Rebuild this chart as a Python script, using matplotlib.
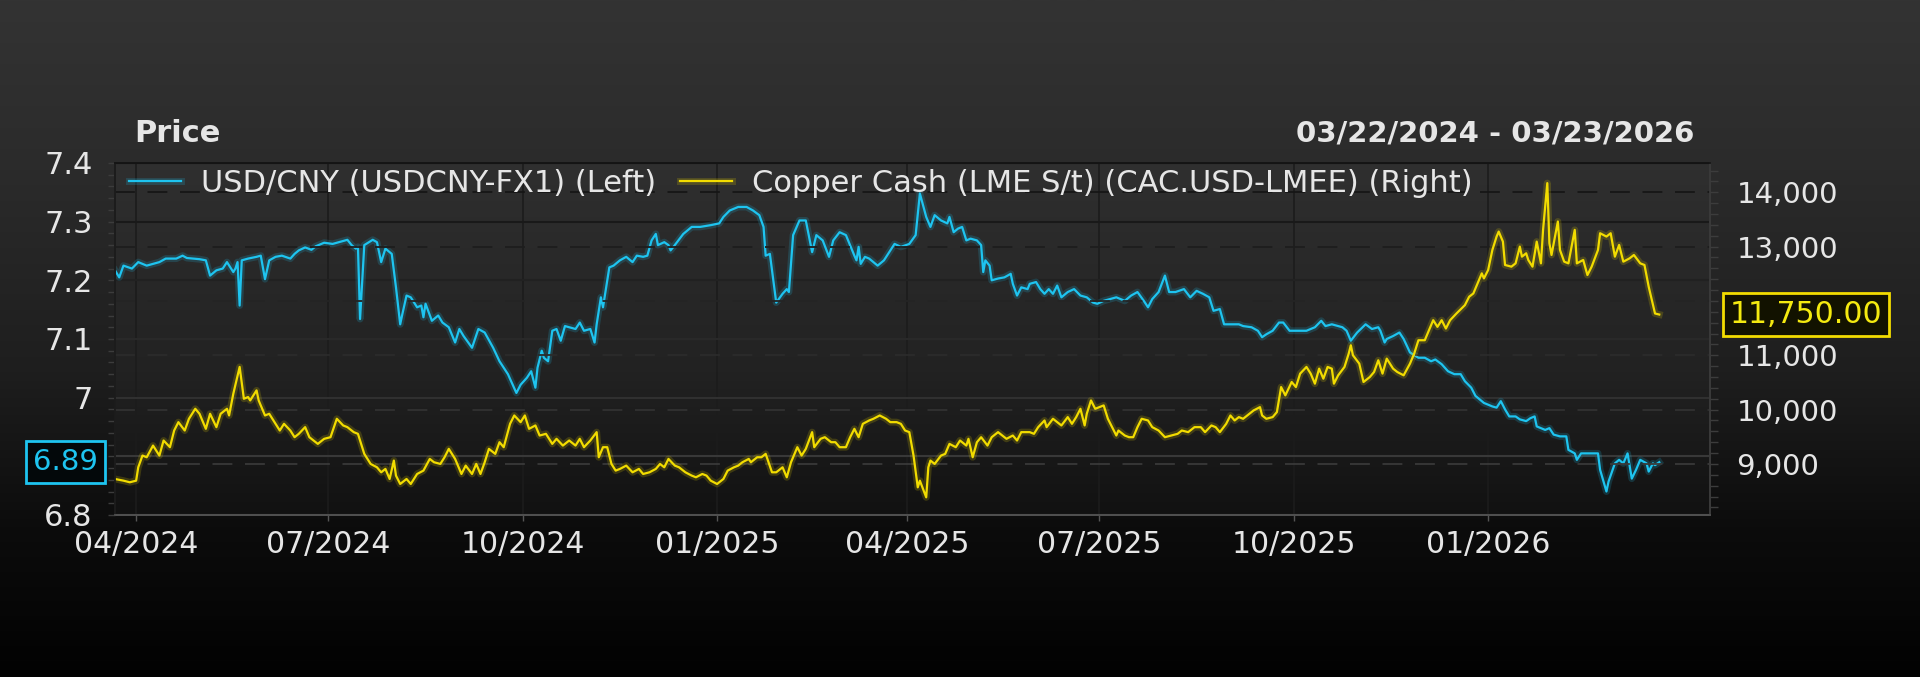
import numpy as np
import pandas as pd
import matplotlib
matplotlib.use('Agg')
import matplotlib.pyplot as plt
import matplotlib.dates as mdates
import matplotlib.ticker as mticker
import matplotlib.patheffects as pe
from matplotlib.colors import LinearSegmentedColormap
from matplotlib.transforms import blended_transform_factory

start = pd.Timestamp('2024-03-22')
end = pd.Timestamp('2026-03-23')

# USD/CNY (days after 03/22/2024)
cny_day = [0, 2, 4, 8, 11, 15, 21, 24, 29, 32,
           34, 40, 43, 45, 48, 51, 53, 56, 57, 58,
           59, 60, 63, 67, 69, 71, 73, 76, 79, 83,
           85, 87, 90, 93, 95, 99, 103, 106, 110, 112,
           114, 115, 116, 118, 122, 124, 126, 128, 131, 133,
           135, 136, 138, 140, 143, 145, 146, 147, 150, 153,
           155, 158, 161, 163, 165, 169, 172, 175, 179, 182,
           186, 190, 192, 195, 197, 199, 200, 202, 203, 205,
           207, 209, 211, 213, 215, 218, 220, 222, 225, 227,
           228, 230, 231, 234, 236, 239, 242, 245, 247, 250,
           252, 254, 256, 257, 260, 262, 263, 265, 269, 273,
           277, 282, 286, 288, 291, 295, 299, 302, 305, 307,
           308, 310, 313, 316, 318, 319, 321, 324, 327, 330,
           332, 335, 338, 340, 343, 346, 350, 351, 352, 353,
           355, 357, 361, 364, 367, 369, 372, 376, 379, 381,
           384, 386, 388, 391, 394, 395, 397, 399, 401, 403,
           405, 408, 410, 411, 412, 414, 415, 418, 421, 424,
           425, 427, 429, 432, 433, 436, 438, 440, 442, 444,
           446, 448, 451, 454, 457, 460, 463, 465, 468, 471,
           474, 478, 481, 484, 487, 489, 491, 494, 497, 499,
           502, 506, 509, 512, 515, 518, 520, 523, 525, 528,
           532, 534, 538, 541, 543, 545, 548, 551, 553, 556,
           560, 564, 568, 571, 573, 576, 579, 581, 583, 585,
           588, 592, 595, 598, 599, 601, 602, 605, 608, 610,
           613, 617, 620, 623, 625, 628, 631, 634, 637, 639,
           642, 644, 648, 652, 654, 656, 658, 660, 663, 665,
           668, 670, 672, 673, 677, 679, 681, 684, 687, 688,
           691, 692, 694, 697, 702, 703, 706, 707, 710, 712,
           714, 716, 718, 720, 722, 725, 726, 728, 729, 731]
cny_value = [7.217, 7.205, 7.225, 7.220, 7.231, 7.225, 7.231, 7.237, 7.237, 7.242,
             7.238, 7.236, 7.234, 7.208, 7.217, 7.220, 7.231, 7.214, 7.220, 7.231,
             7.157, 7.234, 7.237, 7.240, 7.242, 7.202, 7.234, 7.240, 7.242, 7.237,
             7.245, 7.251, 7.256, 7.252, 7.258, 7.264, 7.262, 7.265, 7.269, 7.260,
             7.254, 7.257, 7.134, 7.260, 7.269, 7.265, 7.231, 7.254, 7.245, 7.188,
             7.125, 7.142, 7.174, 7.171, 7.154, 7.157, 7.137, 7.160, 7.131, 7.140,
             7.128, 7.120, 7.094, 7.117, 7.105, 7.085, 7.117, 7.111, 7.085, 7.062,
             7.040, 7.008, 7.022, 7.034, 7.045, 7.017, 7.051, 7.080, 7.068, 7.062,
             7.114, 7.117, 7.097, 7.122, 7.120, 7.117, 7.128, 7.114, 7.117, 7.094,
             7.125, 7.171, 7.154, 7.222, 7.225, 7.234, 7.240, 7.231, 7.242, 7.240,
             7.242, 7.268, 7.279, 7.260, 7.265, 7.260, 7.251, 7.260, 7.279, 7.291,
             7.291, 7.294, 7.297, 7.308, 7.319, 7.325, 7.325, 7.319, 7.311, 7.291,
             7.242, 7.245, 7.162, 7.177, 7.185, 7.180, 7.277, 7.302, 7.302, 7.248,
             7.277, 7.268, 7.240, 7.268, 7.282, 7.277, 7.242, 7.234, 7.257, 7.228,
             7.240, 7.237, 7.225, 7.234, 7.251, 7.262, 7.257, 7.262, 7.277, 7.348,
             7.308, 7.291, 7.311, 7.302, 7.297, 7.308, 7.282, 7.288, 7.291, 7.268,
             7.271, 7.268, 7.260, 7.214, 7.234, 7.225, 7.200, 7.203, 7.205, 7.211,
             7.194, 7.174, 7.188, 7.185, 7.194, 7.197, 7.185, 7.177, 7.185, 7.177,
             7.191, 7.171, 7.180, 7.185, 7.174, 7.171, 7.162, 7.160, 7.165, 7.168,
             7.171, 7.165, 7.174, 7.180, 7.165, 7.154, 7.168, 7.180, 7.208, 7.180,
             7.180, 7.185, 7.171, 7.182, 7.177, 7.171, 7.148, 7.151, 7.125, 7.125,
             7.125, 7.122, 7.120, 7.114, 7.103, 7.108, 7.114, 7.128, 7.128, 7.114,
             7.114, 7.114, 7.120, 7.131, 7.122, 7.125, 7.122, 7.120, 7.114, 7.097,
             7.111, 7.125, 7.117, 7.120, 7.114, 7.094, 7.100, 7.105, 7.111, 7.100,
             7.077, 7.068, 7.068, 7.062, 7.065, 7.057, 7.045, 7.040, 7.040, 7.028,
             7.017, 7.003, 6.991, 6.985, 6.983, 6.994, 6.980, 6.968, 6.968, 6.963,
             6.960, 6.965, 6.968, 6.951, 6.945, 6.948, 6.937, 6.934, 6.934, 6.911,
             6.905, 6.894, 6.905, 6.905, 6.905, 6.877, 6.840, 6.857, 6.888, 6.894,
             6.888, 6.905, 6.862, 6.877, 6.894, 6.888, 6.874, 6.888, 6.885, 6.890]

# LME copper cash, USD/t (days after 03/22/2024)
cu_day = [0, 4, 7, 10, 11, 13, 15, 18, 21, 23,
          26, 28, 30, 33, 35, 38, 40, 43, 45, 48,
          50, 53, 54, 56, 59, 61, 63, 64, 67, 68,
          71, 73, 75, 78, 80, 83, 85, 87, 90, 92,
          96, 99, 102, 105, 108, 110, 113, 115, 118, 121,
          124, 126, 128, 130, 132, 133, 135, 138, 140, 143,
          146, 149, 151, 154, 156, 158, 161, 164, 166, 169,
          171, 173, 175, 177, 180, 182, 184, 187, 189, 192,
          194, 196, 199, 201, 204, 207, 209, 212, 215, 218,
          220, 222, 225, 228, 229, 231, 233, 235, 237, 239,
          242, 245, 248, 250, 253, 256, 258, 260, 262, 265,
          267, 270, 273, 275, 278, 280, 282, 285, 288, 290,
          293, 295, 297, 300, 301, 304, 306, 308, 311, 313,
          316, 318, 320, 323, 325, 327, 330, 331, 334, 336,
          339, 341, 343, 346, 348, 350, 352, 354, 357, 359,
          362, 365, 367, 370, 372, 374, 376, 378, 380, 381,
          384, 385, 386, 388, 391, 393, 395, 398, 400, 403,
          404, 406, 408, 410, 413, 415, 418, 420, 422, 425,
          427, 429, 433, 435, 437, 440, 441, 444, 446, 448,
          451, 453, 455, 457, 459, 460, 462, 464, 466, 468,
          470, 472, 474, 475, 478, 480, 482, 484, 486, 489,
          491, 494, 497, 500, 503, 505, 508, 511, 514, 516,
          519, 521, 523, 526, 528, 530, 532, 534, 537, 539,
          542, 543, 545, 548, 550, 552, 554, 557, 559, 561,
          564, 566, 568, 570, 572, 574, 576, 577, 579, 582,
          584, 585, 586, 589, 591, 594, 596, 598, 600, 602,
          605, 607, 610, 613, 615, 617, 620, 622, 624, 626,
          628, 630, 632, 635, 639, 641, 643, 645, 647, 648,
          650, 652, 654, 655, 657, 658, 661, 663, 665, 666,
          668, 669, 671, 673, 675, 676, 678, 679, 680, 683,
          684, 686, 688, 691, 692, 695, 697, 699, 702, 703,
          706, 708, 710, 712, 714, 717, 719, 722, 724, 726,
          729, 731]
cu_value = [8723, 8692, 8662, 8692, 8938, 9154, 9123, 9338, 9154, 9431,
            9308, 9615, 9769, 9615, 9831, 10015, 9923, 9646, 9923, 9677,
            9923, 10015, 9892, 10292, 10785, 10200, 10231, 10169, 10354, 10169,
            9892, 9923, 9800, 9615, 9738, 9615, 9492, 9554, 9677, 9492,
            9369, 9462, 9492, 9831, 9708, 9677, 9585, 9554, 9185, 9000,
            8938, 8846, 8908, 8723, 9062, 8785, 8631, 8723, 8631, 8815,
            8877, 9092, 9031, 9000, 9123, 9277, 9092, 8815, 8969, 8815,
            9000, 8815, 9031, 9277, 9185, 9400, 9308, 9738, 9892, 9769,
            9892, 9646, 9708, 9523, 9554, 9369, 9462, 9338, 9431, 9338,
            9462, 9308, 9431, 9585, 9123, 9308, 9308, 9000, 8877, 8908,
            8969, 8846, 8908, 8815, 8846, 8908, 9000, 8938, 9092, 8969,
            8938, 8846, 8785, 8754, 8815, 8785, 8692, 8631, 8723, 8877,
            8938, 8969, 9031, 9092, 9031, 9123, 9123, 9185, 8846, 8846,
            8938, 8754, 9031, 9308, 9154, 9277, 9585, 9308, 9462, 9492,
            9400, 9400, 9308, 9308, 9492, 9646, 9492, 9738, 9800, 9831,
            9892, 9831, 9769, 9769, 9738, 9615, 9585, 9154, 8569, 8692,
            8385, 8938, 9062, 9000, 9154, 9185, 9369, 9308, 9431, 9338,
            9462, 9123, 9400, 9492, 9338, 9492, 9585, 9523, 9462, 9523,
            9431, 9585, 9585, 9554, 9677, 9800, 9677, 9831, 9769, 9708,
            9862, 9738, 9862, 10015, 9708, 9923, 10169, 10015, 10046, 10077,
            9831, 9677, 9523, 9615, 9523, 9492, 9492, 9677, 9831, 9800,
            9677, 9615, 9492, 9523, 9554, 9615, 9585, 9677, 9677, 9585,
            9708, 9677, 9585, 9738, 9892, 9800, 9862, 9831, 9923, 9985,
            10046, 9892, 9831, 9862, 9954, 10415, 10262, 10508, 10415, 10662,
            10785, 10662, 10477, 10754, 10569, 10785, 10754, 10477, 10631, 10785,
            11031, 11185, 11000, 10846, 10508, 10600, 10692, 10908, 10662, 10938,
            10754, 10692, 10631, 10846, 11031, 11277, 11277, 11462, 11646, 11523,
            11646, 11492, 11646, 11769, 11923, 12077, 12138, 12323, 12508, 12415,
            12569, 12938, 13185, 13277, 13092, 12662, 12631, 12692, 13000, 12815,
            12877, 12754, 12631, 13092, 12692, 13308, 14169, 13062, 12846, 13462,
            12938, 12723, 12692, 13308, 12692, 12754, 12477, 12631, 12938, 13246,
            13185, 13246, 12815, 13031, 12723, 12785, 12846, 12692, 12662, 12262,
            11769, 11750]

cny_label = 'USD/CNY (USDCNY-FX1) (Left)'
cu_label = 'Copper Cash (LME S/t) (CAC.USD-LMEE) (Right)'

cny_color = '#1ec4f0'
cu_color = '#f2dc00'
text_color = '#e6e6e6'

cny_dates = start + pd.to_timedelta(cny_day, unit='D')
cu_dates = start + pd.to_timedelta(cu_day, unit='D')
cny_last = cny_value[-1]
cu_last = cu_value[-1]

fig = plt.figure(figsize=(19.2, 6.77), dpi=100)

# dark grey to black backdrop
bg = fig.add_axes([0, 0, 1, 1], zorder=-10)
bg_cmap = LinearSegmentedColormap.from_list(
    'bg', [(0, '#333333'), (0.25, '#2b2b2b'), (0.55, '#1e1e1e'),
           (0.78, '#0c0c0c'), (1, '#020202')])
bg.imshow(np.linspace(0, 1, 256).reshape(-1, 1), cmap=bg_cmap,
          aspect='auto', extent=[0, 1, 0, 1])
bg.axis('off')

ax = fig.add_axes([0.0599, 0.2393, 0.8307, 0.52])
ax.set_facecolor((1, 1, 1, 0.02))
ax2 = ax.twinx()


def glow(c):
    return [pe.Stroke(linewidth=5, foreground=c, alpha=0.18), pe.Normal()]


ax.plot(cny_dates, cny_value, color=cny_color, lw=1.6,
        label=cny_label, path_effects=glow(cny_color))
ax2.plot(cu_dates, cu_value, color=cu_color, lw=1.6,
         label=cu_label, path_effects=glow(cu_color))

ax.set_xlim(start, start + pd.Timedelta(days=755))
ax.set_ylim(6.8, 7.4)
ax2.set_ylim(8060, 14540)

# quarter ticks only inside the data range
ax.set_xticks(pd.date_range(start, end, freq='QS'))
ax.xaxis.set_major_formatter(mdates.DateFormatter('%m/%Y'))
ax.yaxis.set_major_locator(mticker.MultipleLocator(0.1))
ax.yaxis.set_minor_locator(mticker.MultipleLocator(0.02))
ax2.yaxis.set_major_locator(mticker.MultipleLocator(1000))
ax2.yaxis.set_minor_locator(mticker.MultipleLocator(200))


# the last-value tags sit on top of the nearest tick label
def left_fmt(v, p):
    return '' if abs(v - cny_last) < 0.03 else f'{v:g}'


def right_fmt(v, p):
    return '' if abs(v - cu_last) < 300 else f'{v:,.0f}'


ax.yaxis.set_major_formatter(mticker.FuncFormatter(left_fmt))
ax2.yaxis.set_major_formatter(mticker.FuncFormatter(right_fmt))

ax.grid(axis='x', color='#1c1c1c', lw=1.2)
ax.grid(axis='y', color='#1a1a1a', lw=1.5)
ax2.grid(axis='y', color='#1a1a1a', lw=1.3, linestyle=(0, (11, 7)))

ax.tick_params(axis='y', which='both', direction='out', length=5, width=1,
               color='#3c3c3c', labelsize=22, labelcolor=text_color, pad=11)
ax.tick_params(axis='x', direction='out', length=4, width=1, color='#555555',
               labelsize=21.5, labelcolor=text_color, pad=7)
ax2.tick_params(axis='y', which='both', direction='out', length=6, width=1,
                color='#3c3c3c', labelsize=21, labelcolor=text_color, pad=13)

for a in (ax, ax2):
    a.spines['top'].set_color('#151515')
    a.spines['left'].set_color('#1c1c1c')
    a.spines['bottom'].set_color('#505050')
    a.spines['right'].set_color('#3a3a3a')
    for s in a.spines.values():
        s.set_linewidth(1.3)

# grid lines look dark on the grey top and lighter on the black bottom
fig.canvas.draw()
for a in (ax, ax2):
    lo, hi = a.get_ylim()
    for tick in a.yaxis.get_major_ticks():
        f = (tick.get_loc() - lo) / (hi - lo)
        g = 0.25 - 0.18 * min(max(f, 0), 1)
        tick.gridline.set_color((g, g, g))

leg = ax2.legend(ax.get_lines() + ax2.get_lines(), [cny_label, cu_label],
                 loc='center left', bbox_to_anchor=(0.0088, 0.943), ncol=2,
                 frameon=False, fontsize=22, handlelength=1.7,
                 handletextpad=0.65, columnspacing=0.8,
                 borderaxespad=0, borderpad=0)
for t in leg.get_texts():
    t.set_color(text_color)

# last value tags
left_tr = blended_transform_factory(ax.transAxes, ax.transData)
ax.text(-0.0313, cny_last, f'{cny_last:.2f}', transform=left_tr,
        ha='center', va='center', fontsize=21, color=cny_color, clip_on=False,
        zorder=10, bbox=dict(boxstyle='square,pad=0.24', fc='#03080a',
                             ec=cny_color, lw=2))
right_tr = blended_transform_factory(ax2.transAxes, ax2.transData)
ax2.text(1.0602, cu_last, f'{cu_last:,.2f}', transform=right_tr,
         ha='center', va='center', fontsize=21.5, color='#f4ea10',
         clip_on=False, zorder=10,
         bbox=dict(boxstyle='square,pad=0.22', fc='#121200', ec=cu_color, lw=2))

fig.text(134 / 1920, 1 - 133 / 677, 'Price', fontsize=22, fontweight='bold',
         color=text_color, ha='left', va='center')
fig.text(1694 / 1920, 1 - 133 / 677, f'{start:%m/%d/%Y} - {end:%m/%d/%Y}',
         fontsize=21, fontweight='bold', color=text_color, ha='right',
         va='center')

fig.savefig('out.png', dpi=100)
